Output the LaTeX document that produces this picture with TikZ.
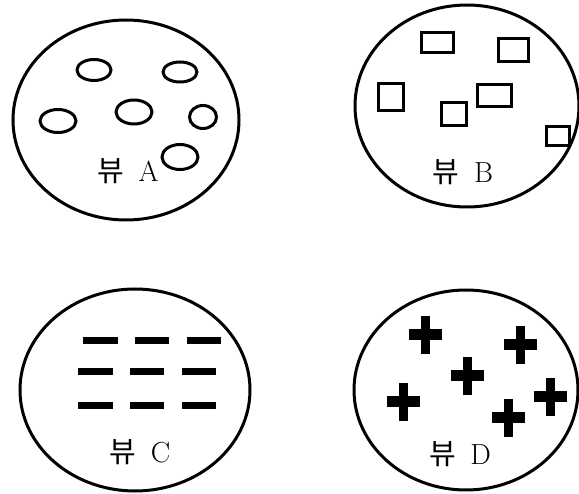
\documentclass[tikz,border=0pt]{standalone}
\usepackage{fontspec}
\newfontfamily\krfont{Noto Sans CJK KR}
\begin{document}
\begin{tikzpicture}[x=1pt,y=-1pt,
  outline/.style={draw=black,line width=3pt},
  item/.style={draw=black,line width=3pt},
  dashbar/.style={fill=black},
  viewlabel/.style={font=\fontsize{29}{32}\selectfont,inner sep=0pt,anchor=center},
  plusmark/.pic={\fill (-16.5,-5.5) rectangle (16.5,5.5); \fill (-4.5,-19) rectangle (4.5,19);}]
\useasboundingbox (0,0) rectangle (579,494);
% View A
\draw[outline] (126,120) ellipse [x radius=113, y radius=100];
\draw[item] (94,70) ellipse [x radius=17, y radius=10.5];
\draw[item] (180,72) ellipse [x radius=17, y radius=10];
\draw[item] (58,121) ellipse [x radius=18, y radius=11.5];
\draw[item] (134,112) ellipse [x radius=18, y radius=12];
\draw[item] (203,117) ellipse [x radius=13.5, y radius=11.5];
\draw[item] (180,157) ellipse [x radius=18, y radius=12.5];
\node[viewlabel] (la) at (128,171) {{\krfont 뷰}\hspace{0.5em}A};
% View B
\draw[outline] (467,106) ellipse [x radius=112, y radius=101];
\draw[item] (421,33) rectangle (453,53);
\draw[item] (498,39) rectangle (528,62);
\draw[item] (378,84) rectangle (403,111);
\draw[item] (477,85) rectangle (511,107);
\draw[item] (441,103) rectangle (466,126);
\draw[item] (546,127) rectangle (569,146);
\node[viewlabel] (lb) at (463,172) {{\krfont 뷰}\hspace{0.5em}B};
% View C
\draw[outline] (135,390) ellipse [x radius=115, y radius=101];
\foreach \xa/\xb in {83/118,135/169,187/221}
  \fill[dashbar] (\xa,337) rectangle (\xb,344.5);
\foreach \yy in {368,402}
  \foreach \xa/\xb in {78/113,130/164,182/216}
    \fill[dashbar] (\xa,\yy) rectangle (\xb,\yy+7.5);
\node[viewlabel] (lc) at (140,452) {{\krfont 뷰}\hspace{0.5em}C};
% View D
\draw[outline] (466,390) ellipse [x radius=112, y radius=100];
\pic at (425,335) {plusmark};
\pic at (520,345) {plusmark};
\pic at (467,376) {plusmark};
\pic at (403,402) {plusmark};
\pic at (550,397) {plusmark};
\pic at (508,418) {plusmark};
\node[viewlabel] (ld) at (460,454) {{\krfont 뷰}\hspace{0.5em}D};
\end{tikzpicture}
\end{document}
